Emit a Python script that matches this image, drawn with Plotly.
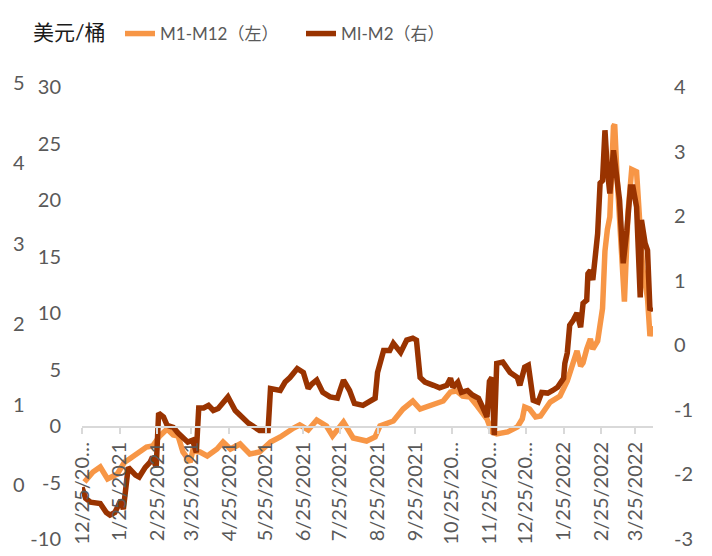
import plotly.graph_objects as go

# ---------------- data ----------------
spread_dates = ["2020-12-27","2021-01-03","2021-01-09","2021-01-15","2021-01-23","2021-01-29","2021-02-02",
    "2021-02-11","2021-02-16","2021-02-21","2021-02-27","2021-03-05","2021-03-10","2021-03-14","2021-03-18",
    "2021-03-24","2021-03-26","2021-04-01","2021-04-07","2021-04-15","2021-04-20","2021-04-26","2021-05-04",
    "2021-05-12","2021-05-20","2021-05-29","2021-06-06","2021-06-17","2021-06-22","2021-06-29","2021-07-06",
    "2021-07-14","2021-07-19","2021-07-28","2021-08-05","2021-08-16","2021-08-23","2021-08-27","2021-09-02",
    "2021-09-07","2021-09-15","2021-09-23","2021-09-29","2021-10-10","2021-10-18","2021-10-24","2021-10-29",
    "2021-11-03","2021-11-09","2021-11-15","2021-11-20","2021-11-23","2021-11-27","2021-12-01","2021-12-10",
    "2021-12-18","2021-12-22","2021-12-24","2021-12-28","2022-01-02","2022-01-06","2022-01-14","2022-01-22",
    "2022-01-28","2022-02-02","2022-02-05","2022-02-08","2022-02-10","2022-02-13","2022-02-16","2022-02-18",
    "2022-02-22","2022-02-26","2022-02-28","2022-03-02","2022-03-04","2022-03-07","2022-03-08","2022-03-10",
    "2022-03-12","2022-03-15","2022-03-16","2022-03-19","2022-03-22","2022-03-26","2022-03-29","2022-03-31",
    "2022-04-04","2022-04-06","2022-04-08"]
m1_m12 = [-4.96,-4.07,-3.63,-4.69,-4.25,-3.19,-2.92,
    -2.30,-1.86,-1.77,-0.88,-0.27,-0.80,-0.88,-2.30,
    -3.19,-2.21,-2.30,-2.65,-2.04,-1.42,-2.04,-1.59,
    -2.48,-2.30,-1.42,-0.97,-0.18,0.09,-0.35,0.53,
    0.00,-0.88,0.35,-1.06,-1.33,-0.97,0.00,0.18,
    0.44,1.50,2.21,1.50,1.95,2.21,3.01,3.10,
    2.65,2.57,1.77,1.06,0.62,-0.53,-0.71,-0.53,
    -0.09,0.62,1.68,1.50,0.80,0.88,2.12,2.65,
    3.98,5.66,6.64,5.31,5.60,6.81,7.70,6.81,
    7.52,10.4,15.5,17.4,18.5,26.5,26.7,22.0,
    18.5,11.3,11.0,19.0,22.7,22.5,17.4,14.0,
    11.3,7.96,8.85]

m1_m2_dates = ["2020-12-25","2020-12-28","2021-01-01","2021-01-09","2021-01-14","2021-01-17","2021-01-21",
    "2021-01-26","2021-01-28","2021-02-01","2021-02-07","2021-02-10","2021-02-15","2021-02-19","2021-02-21",
    "2021-02-24","2021-02-26","2021-03-02","2021-03-05","2021-03-10","2021-03-14","2021-03-18","2021-03-22",
    "2021-03-26","2021-03-29","2021-03-31","2021-04-04","2021-04-08","2021-04-12","2021-04-16","2021-04-22",
    "2021-04-24","2021-04-30","2021-05-05","2021-05-11","2021-05-16","2021-05-20","2021-05-27","2021-05-29",
    "2021-06-06","2021-06-10","2021-06-14","2021-06-20","2021-06-25","2021-06-29","2021-07-02","2021-07-06",
    "2021-07-11","2021-07-17","2021-07-23","2021-07-28","2021-08-02","2021-08-06","2021-08-13","2021-08-19",
    "2021-08-23","2021-08-25","2021-08-30","2021-09-04","2021-09-07","2021-09-13","2021-09-18","2021-09-23",
    "2021-09-26","2021-09-29","2021-10-03","2021-10-10","2021-10-15","2021-10-21","2021-10-24","2021-10-26",
    "2021-10-30","2021-11-02","2021-11-07","2021-11-11","2021-11-16","2021-11-20","2021-11-23","2021-11-25",
    "2021-11-27","2021-11-29","2021-12-01","2021-12-06","2021-12-10","2021-12-12","2021-12-18","2021-12-20",
    "2021-12-24","2021-12-27","2021-12-31","2022-01-04","2022-01-07","2022-01-12","2022-01-16","2022-01-20",
    "2022-01-25","2022-01-26","2022-01-28","2022-01-30","2022-02-02","2022-02-05","2022-02-08","2022-02-10",
    "2022-02-13","2022-02-14","2022-02-16","2022-02-18","2022-02-22","2022-02-24","2022-02-26","2022-02-28",
    "2022-03-02","2022-03-04","2022-03-07","2022-03-10","2022-03-12","2022-03-14","2022-03-15","2022-03-18",
    "2022-03-21","2022-03-23","2022-03-26","2022-03-29","2022-03-30","2022-04-02","2022-04-04","2022-04-06",
    "2022-04-08"]
m1_m2 = [-2.20,-2.37,-2.43,-2.45,-2.59,-2.63,-2.59,
    -2.40,-2.54,-1.89,-2.01,-2.04,-1.89,-1.81,-1.73,
    -1.89,-1.05,-1.11,-1.24,-1.27,-1.36,-1.44,-1.50,
    -1.47,-1.66,-0.97,-0.97,-0.93,-1.01,-0.98,-0.82,
    -0.80,-1.01,-1.11,-1.21,-1.27,-1.32,-1.32,-0.67,
    -0.70,-0.57,-0.50,-0.36,-0.42,-0.67,-0.60,-0.54,
    -0.73,-0.80,-0.82,-0.54,-0.70,-0.90,-0.93,-0.85,
    -0.82,-0.42,-0.08,-0.08,0.03,-0.11,0.08,0.11,
    0.08,-0.50,-0.57,-0.62,-0.66,-0.62,-0.51,-0.65,
    -0.57,-0.73,-0.70,-0.77,-0.82,-0.98,-1.11,-0.56,
    -0.50,-1.39,-0.28,-0.26,-0.36,-0.42,-0.50,-0.62,
    -0.34,-0.31,-0.85,-0.88,-0.73,-0.74,-0.70,-0.65,
    -0.51,-0.28,-0.12,0.31,0.39,0.50,0.28,0.65,
    0.70,1.11,1.16,1.01,1.73,2.51,2.55,3.33,
    2.71,2.35,3.02,2.45,2.25,1.58,1.27,1.78,
    2.45,2.45,2.14,0.74,1.94,1.58,1.47,0.54,
    0.59]

x_tick_vals = ["2020-12-25","2021-01-25","2021-02-25","2021-03-25","2021-04-25","2021-05-25","2021-06-25",
    "2021-07-25","2021-08-25","2021-09-25","2021-10-25","2021-11-25","2021-12-25","2022-01-25","2022-02-25",
    "2022-03-25"]
x_tick_text = ["12/25/20…","1/25/2021","2/25/2021","3/25/2021","4/25/2021","5/25/2021","6/25/2021",
    "7/25/2021","8/25/2021","9/25/2021","10/25/20…","11/25/20…","12/25/20…","1/25/2022","2/25/2022",
    "3/25/2022"]
left_ticks = [-10, -5, 0, 5, 10, 15, 20, 25, 30]
right_ticks = [-3, -2, -1, 0, 1, 2, 3, 4]
ghost_ticks = [0, 1, 2, 3, 4, 5]

series_names = ["M1-M12（左）", "MI-M2（右）"]
unit_label = "美元/桶"

# ---------------- figure ----------------
FONT = "Lato, 'Noto Sans CJK SC', sans-serif"
GREY = "#595959"
ORANGE = "#F79646"
BROWN = "#993300"

W, H = 712, 556
ml, mr, mt, mb = 82, 59, 87, 17
pw, ph = W - ml - mr, H - mt - mb


def fx(px):
    return (px - ml) / pw


def fy(py):
    return (H - mb - py) / ph


fig = go.Figure()
fig.add_trace(go.Scatter(x=spread_dates, y=m1_m12, mode="lines", name=series_names[0],
                         line=dict(color=ORANGE, width=5.5)))
fig.add_trace(go.Scatter(x=m1_m2_dates, y=m1_m2, mode="lines", name=series_names[1],
                         line=dict(color=BROWN, width=5.5), yaxis="y2"))

fig.update_layout(
    width=W, height=H,
    margin=dict(l=ml, r=mr, t=mt, b=mb, autoexpand=False),
    paper_bgcolor="white", plot_bgcolor="white",
    font=dict(family=FONT, color=GREY, size=20),
    showlegend=True,
    legend=dict(orientation="h", x=fx(120), y=fy(34), xanchor="left", yanchor="middle",
                font=dict(size=17, color=GREY, family=FONT),
                entrywidth=136, entrywidthmode="pixels",
                bgcolor="rgba(0,0,0,0)"),
    xaxis=dict(type="date", automargin=False,
               range=["2020-12-25", "2022-04-08 12:00"],
               anchor="free", position=fy(427),
               tickvals=x_tick_vals, ticktext=x_tick_text, tickangle=-90,
               ticks="outside", ticklen=6, tickcolor="#D9D9D9", tickwidth=2,
               showline=True, linecolor="#D9D9D9", linewidth=2,
               showgrid=False, zeroline=False,
               tickfont=dict(size=20, color=GREY)),
    yaxis=dict(range=[-10, 30], automargin=False,
               tickvals=left_ticks, ticktext=[str(v) for v in left_ticks],
               showgrid=False, zeroline=False, showline=False,
               ticks="", ticklabelstandoff=20, tickfont=dict(size=20, color=GREY)),
    yaxis2=dict(overlaying="y", side="right", range=[-3, 4], automargin=False,
                tickvals=right_ticks, ticktext=[str(v) for v in right_ticks],
                showgrid=False, zeroline=False, showline=False,
                ticks="", ticklabelstandoff=20, tickfont=dict(size=20, color=GREY)),
)

# leftover outer axis of the original chart (0..5), drawn as text labels
ghost_px_per_unit = 80.4
for v in ghost_ticks:
    fig.add_annotation(text=str(v), xref="paper", yref="paper",
                       x=fx(27), y=fy(484 - v * ghost_px_per_unit),
                       xanchor="right", yanchor="middle", showarrow=False,
                       font=dict(size=20, color=GREY, family=FONT))

fig.add_annotation(text=unit_label, xref="paper", yref="paper", x=fx(31), y=fy(31),
                   xanchor="left", yanchor="middle", showarrow=False,
                   font=dict(size=21, color="#1a1a1a", family=FONT))

fig.write_html("out.html", config={"displayModeBar": False},
               post_script="document.body.style.margin='0';document.body.style.padding='0';")
